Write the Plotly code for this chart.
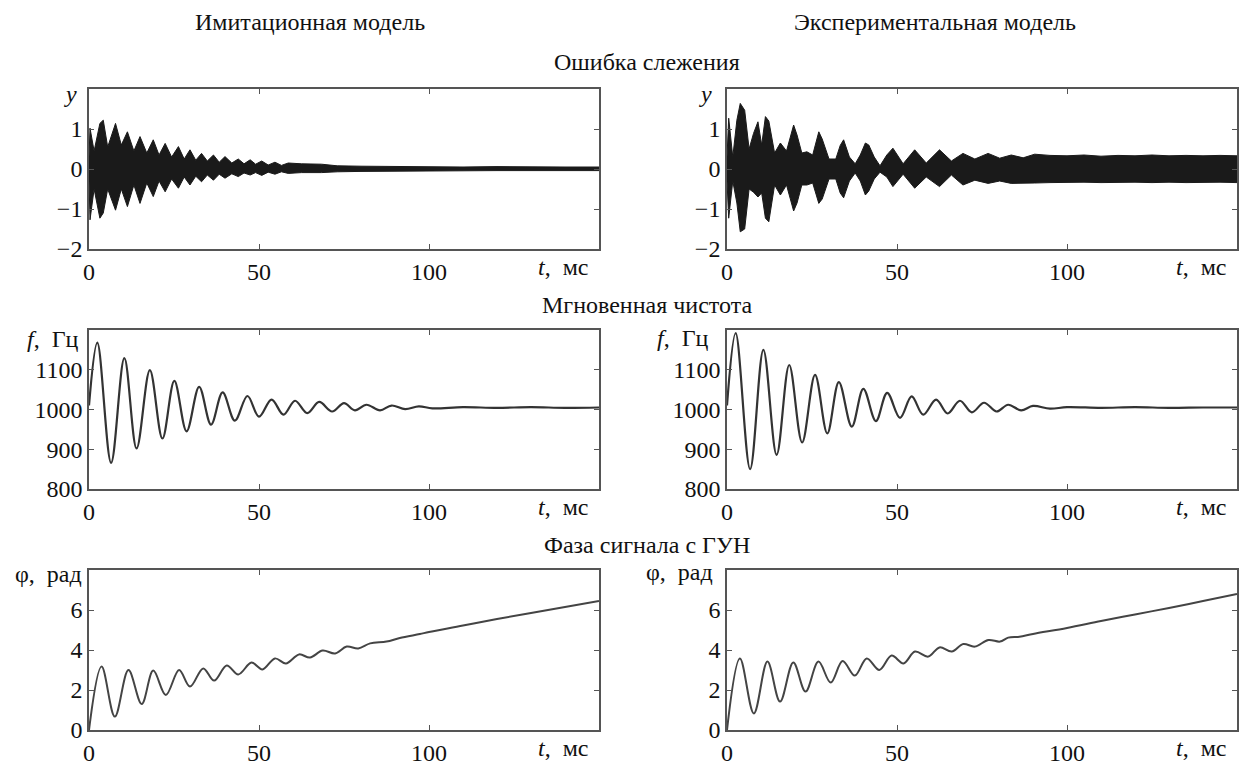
import plotly.graph_objects as go

W, H = 1240, 767

# ---------------- data ----------------
# Tracking error, simulation model: spike extremes (upper / lower) at read times
t_err_sim = [0, 0.3, 1.5, 3.2, 4.2, 5.5, 7.8, 9.5, 11.3, 13.2, 15.0, 17.0, 18.9, 20.6, 22.4,
             24.3, 26.3, 28.0, 29.7, 31.4, 33.1, 34.8, 36.6, 38.3, 40.0, 42.0, 43.9, 45.6,
             47.4, 49.0, 50.8, 52.7, 54.7, 56.6, 58.6, 62.5, 68.4, 73, 80, 93, 98, 110,
             120, 130, 140, 150]
err_sim_hi = [0.3, 1.02, 0.45, 1.14, 1.22, 0.55, 1.14, 0.6, 0.93, 0.45, 0.81, 0.4, 0.73, 0.35,
              0.64, 0.3, 0.56, 0.25, 0.48, 0.22, 0.39, 0.2, 0.35, 0.17, 0.31, 0.15, 0.25, 0.13,
              0.23, 0.12, 0.2, 0.1, 0.17, 0.09, 0.15, 0.13, 0.12, 0.08, 0.07, 0.06, 0.05, 0.05,
              0.06, 0.05, 0.05, 0.05]
err_sim_lo = [-0.3, -1.27, -0.5, -1.23, -1.1, -0.5, -1.03, -0.5, -0.94, -0.4, -0.86, -0.35,
              -0.69, -0.3, -0.57, -0.25, -0.48, -0.2, -0.40, -0.18, -0.32, -0.15, -0.28, -0.13,
              -0.23, -0.12, -0.19, -0.1, -0.15, -0.09, -0.16, -0.08, -0.13, -0.07, -0.11, -0.09,
              -0.09, -0.07, -0.06, -0.05, -0.04, -0.04, -0.04, -0.04, -0.04, -0.04]

# Tracking error, experimental model
t_err_exp = [0, 0.5, 1.7, 2.9, 3.9, 5.2, 6.5, 7.8, 9.1, 10.2, 11.3, 12.3, 14.0, 15.7, 17.5,
             19.6, 20.6, 22.0, 23.5, 25.2, 27.0, 28.0, 30.0, 32.0, 33.3, 34.3, 36.0, 37.7,
             39.2, 40.7, 41.7, 43.3, 45.0, 47.0, 48.8, 51.8, 55.2, 58.6, 62.5, 66.0, 69.4,
             72.9, 76.8, 80.2, 83.6, 87.1, 90.5, 95, 100, 105, 110, 115, 120, 125, 130, 135,
             140, 145, 150]
err_exp_hi = [0.3, 1.27, 0.3, 1.22, 1.64, 1.47, 0.5, 0.89, 1.18, 0.6, 1.31, 1.2, 0.4, 0.65,
              0.45, 1.1, 0.85, 0.4, 0.43, 0.35, 0.93, 0.75, 0.25, 0.25, 0.59, 0.73, 0.3, 0.13,
              0.35, 0.65, 0.6, 0.3, 0.08, 0.35, 0.52, 0.13, 0.48, 0.15, 0.48, 0.2, 0.39, 0.25,
              0.39, 0.27, 0.35, 0.28, 0.37, 0.34, 0.33, 0.35, 0.32, 0.34, 0.33, 0.35, 0.33,
              0.34, 0.33, 0.34, 0.33]
err_exp_lo = [-0.3, -1.23, -0.3, -0.85, -1.57, -1.5, -0.5, -0.58, -0.7, -0.6, -1.23, -1.32,
              -0.4, -0.65, -0.4, -1.05, -0.85, -0.4, -0.4, -0.35, -0.86, -0.75, -0.25, -0.25,
              -0.6, -0.72, -0.3, -0.1, -0.3, -0.65, -0.55, -0.25, -0.08, -0.2, -0.44, -0.13,
              -0.48, -0.2, -0.44, -0.15, -0.4, -0.28, -0.36, -0.3, -0.36, -0.36, -0.35, -0.34,
              -0.33, -0.33, -0.34, -0.33, -0.33, -0.34, -0.33, -0.34, -0.33, -0.33, -0.34]

# Instantaneous frequency, Hz
t_f_sim = [0, 2.45, 6.5, 10.4, 14.0, 17.9, 21.6, 25.1, 28.7, 32.4, 35.9, 39.3, 42.9, 46.6,
           50.0, 53.7, 57.2, 60.6, 64.2, 67.7, 71.5, 75.0, 78.2, 81.6, 85.6, 89.0, 93, 97,
           101, 110, 120, 130, 140, 150]
f_sim = [1010, 1168, 866, 1129, 902, 1099, 927, 1072, 945, 1057, 962, 1043, 972, 1034, 982,
         1025, 987, 1022, 991, 1019, 995, 1016, 998, 1012, 998, 1010, 1001, 1008, 1003, 1006,
         1004, 1006, 1004, 1005]
t_f_exp = [0, 2.55, 6.8, 10.7, 14.6, 18.3, 22.1, 25.9, 29.5, 32.9, 36.7, 40.1, 43.8, 47.1,
           50.9, 54.3, 57.7, 61.5, 64.9, 68.5, 72.0, 75.6, 79.3, 82.7, 86.5, 90, 95, 100,
           110, 120, 130, 140, 150]
f_exp = [1010, 1192, 850, 1150, 886, 1112, 917, 1087, 940, 1069, 957, 1052, 971, 1042, 979,
         1033, 987, 1025, 990, 1022, 993, 1017, 995, 1012, 998, 1009, 1002, 1006, 1004, 1006,
         1004, 1005, 1005]

# Phase of VCO signal, rad
t_p_sim = [0, 3.7, 7.6, 11.6, 15.5, 18.9, 22.6, 26.5, 29.7, 33.6, 36.8, 40.5, 43.9, 47.8,
           51.0, 54.7, 57.9, 61.8, 65.0, 68.7, 72.4, 75.8, 79.2, 82.7, 87.5, 91.4, 97.3, 100,
           110, 120, 130, 140, 150]
p_sim = [0, 3.17, 0.67, 3.0, 1.3, 2.97, 1.75, 3.0, 2.17, 3.08, 2.47, 3.23, 2.78, 3.37, 3.03,
         3.58, 3.33, 3.78, 3.62, 3.97, 3.83, 4.17, 4.08, 4.33, 4.42, 4.6, 4.8, 4.9, 5.22,
         5.55, 5.85, 6.15, 6.45]
t_p_exp = [0, 3.8, 7.9, 11.9, 15.6, 19.5, 23.1, 26.9, 30.5, 34.0, 37.6, 41.1, 44.8, 48.4,
           51.9, 55.3, 59.2, 62.5, 66.1, 69.5, 72.9, 76.9, 80.3, 82.7, 86.0, 90, 100, 110,
           120, 130, 140, 150]
p_exp = [0, 3.58, 0.83, 3.42, 1.42, 3.38, 1.92, 3.42, 2.37, 3.45, 2.72, 3.58, 3.0, 3.72, 3.33,
         3.92, 3.67, 4.13, 3.92, 4.3, 4.17, 4.5, 4.42, 4.62, 4.66, 4.8, 5.1, 5.45, 5.78, 6.1,
         6.45, 6.8]

x_ticks = [0, 50, 100]
err_ticks = [-2, -1, 0, 1]
f_ticks = [800, 900, 1000, 1100]
p_ticks = [0, 2, 4, 6]

col_titles = ["Имитационная модель", "Экспериментальная модель"]
row_titles = ["Ошибка слежения", "Мгновенная чистота", "Фаза сигнала с ГУН"]

# ---------------- layout helpers ----------------
def px(x):
    return x / W

def py(y):
    return 1 - y / H

FONT = "Liberation Serif"
AX = "#555"
TXT = "#111"
SP = "\u2002"

fig = go.Figure()

col_x = [(89, 599), (727, 1237)]
row_y = [(89, 249), (330, 489), (570, 730)]
yranges = [[-2, 2], [800, 1200], [0, 8]]
yticks = [err_ticks, f_ticks, p_ticks]

axis_id = 0
for r in range(3):
    for c in range(2):
        axis_id += 1
        sfx = "" if axis_id == 1 else str(axis_id)
        xa = "x" + sfx
        ya = "y" + sfx
        common = dict(showline=True, mirror="ticks", linecolor=AX, linewidth=1.6,
                      ticks="inside", ticklen=5, tickcolor=AX, tickwidth=1.3,
                      showgrid=False, zeroline=False, automargin=False,
                      tickfont=dict(family=FONT, size=24, color=TXT))
        fig.layout["xaxis" + sfx] = dict(domain=[px(col_x[c][0]), px(col_x[c][1])],
                                         range=[0, 150], tickvals=x_ticks, anchor=ya,
                                         **common)
        fig.layout["yaxis" + sfx] = dict(domain=[py(row_y[r][1]), py(row_y[r][0])],
                                         range=yranges[r], tickvals=yticks[r], anchor=xa,
                                         **common)
        # "t, мс" label near the right end of each x axis
        fig.add_annotation(text="<i>t</i>," + SP + "мс", xref=xa, yref="paper", x=139.5,
                           y=py(row_y[r][1] + 18), xanchor="center", yanchor="middle",
                           showarrow=False, font=dict(family=FONT, size=24, color=TXT))

        if r == 0:
            t = t_err_sim if c == 0 else t_err_exp
            lo = err_sim_lo if c == 0 else err_exp_lo
            hi = err_sim_hi if c == 0 else err_exp_hi
            fig.add_trace(go.Scatter(x=t, y=lo, mode="lines", xaxis=xa, yaxis=ya,
                                     line=dict(color="#1a1a1a", width=1),
                                     showlegend=False))
            fig.add_trace(go.Scatter(x=t, y=hi, mode="lines", xaxis=xa, yaxis=ya,
                                     fill="tonexty", fillcolor="#1a1a1a",
                                     line=dict(color="#1a1a1a", width=1),
                                     showlegend=False))
        elif r == 1:
            t = t_f_sim if c == 0 else t_f_exp
            v = f_sim if c == 0 else f_exp
            fig.add_trace(go.Scatter(x=t, y=v, mode="lines", xaxis=xa, yaxis=ya,
                                     line=dict(color="#333", width=2.2, shape="spline",
                                               smoothing=1.0), showlegend=False))
        else:
            t = t_p_sim if c == 0 else t_p_exp
            v = p_sim if c == 0 else p_exp
            fig.add_trace(go.Scatter(x=t, y=v, mode="lines", xaxis=xa, yaxis=ya,
                                     line=dict(color="#444", width=2, shape="spline",
                                               smoothing=1.0), showlegend=False))

# column titles
for txt, cx in zip(col_titles, [310, 935]):
    fig.add_annotation(text=txt, xref="paper", yref="paper", x=px(cx), y=py(22),
                       xanchor="center", yanchor="middle",
                       showarrow=False, font=dict(family=FONT, size=24, color=TXT))
# row titles
for txt, cy in zip(row_titles, [62, 305, 545]):
    fig.add_annotation(text=txt, xref="paper", yref="paper", x=px(647), y=py(cy),
                       xanchor="center", yanchor="middle",
                       showarrow=False, font=dict(family=FONT, size=24, color=TXT))

# y-axis labels
ylabels = [("<i>y</i>", 70, 94), ("<i>y</i>", 705, 94),
           ("<i>f</i>," + SP + "Гц", 53, 339), ("<i>f</i>," + SP + "Гц", 683, 338),
           ("φ," + SP + "рад", 48, 574), ("φ," + SP + "рад", 679, 572)]
for txt, lx, ly in ylabels:
    fig.add_annotation(text=txt, xref="paper", yref="paper", x=px(lx), y=py(ly),
                       xanchor="center", yanchor="middle",
                       showarrow=False, font=dict(family=FONT, size=24, color=TXT))

fig.update_layout(width=W, height=H, margin=dict(l=0, r=0, t=0, b=0),
                  paper_bgcolor="white", plot_bgcolor="white")

fig.write_html("out.html", config={"displayModeBar": False},
               post_script="document.body.style.margin='0';")
